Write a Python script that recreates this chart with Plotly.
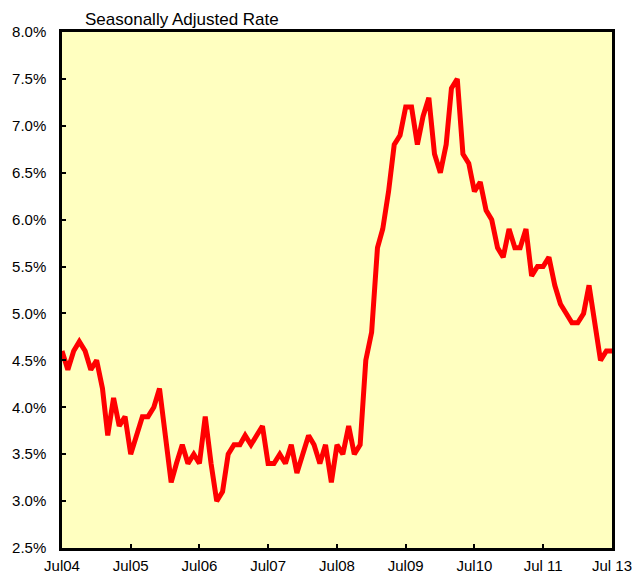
import pandas as pd
import plotly.graph_objects as go

# monthly, Jul 2004 - Jul 2012
months = pd.date_range("2004-07-01", "2012-07-01", freq="MS")

rate = [
    4.6, 4.4, 4.6, 4.7, 4.6, 4.4, 4.5, 4.2, 3.7, 4.1, 3.8, 3.9,
    3.5, 3.7, 3.9, 3.9, 4.0, 4.2, 3.7, 3.2, 3.4, 3.6, 3.4, 3.5,
    3.4, 3.9, 3.4, 3.0, 3.1, 3.5, 3.6, 3.6, 3.7, 3.6, 3.7, 3.8,
    3.4, 3.4, 3.5, 3.4, 3.6, 3.3, 3.5, 3.7, 3.6, 3.4, 3.6, 3.2,
    3.6, 3.5, 3.8, 3.5, 3.6, 4.5, 4.8, 5.7, 5.9, 6.3, 6.8, 6.9,
    7.2, 7.2, 6.8, 7.1, 7.3, 6.7, 6.5, 6.8, 7.4, 7.5, 6.7, 6.6,
    6.3, 6.4, 6.1, 6.0, 5.7, 5.6, 5.9, 5.7, 5.7, 5.9, 5.4, 5.5,
    5.5, 5.6, 5.3, 5.1, 5.0, 4.9, 4.9, 5.0, 5.3, 4.9, 4.5, 4.6,
    4.6,
]

tick_dates = pd.date_range("2004-07-01", "2012-07-01", freq="12MS")
tick_labels = ["Jul04", "Jul05", "Jul06", "Jul07", "Jul08",
               "Jul09", "Jul10", "Jul 11", "Jul 13"]

y_ticks = [2.5, 3.0, 3.5, 4.0, 4.5, 5.0, 5.5, 6.0, 6.5, 7.0, 7.5, 8.0]

fig = go.Figure(
    go.Scatter(
        x=months,
        y=rate,
        mode="lines",
        line=dict(color="#FF0000", width=5),
        hoverinfo="skip",
        showlegend=False,
    )
)

# page body adds an 8px offset, so the figure is a bit smaller than the window
fig.update_layout(
    width=632,
    height=567,
    margin=dict(l=54, r=28, t=24, b=27),
    paper_bgcolor="white",
    plot_bgcolor="#FFFFC0",
    font=dict(family="Liberation Sans, Arial, sans-serif", size=15, color="black"),
    annotations=[
        dict(
            text="Seasonally Adjusted Rate",
            xref="paper", yref="paper",
            x=0.038, y=1.0,
            xanchor="left", yanchor="bottom",
            yshift=1,
            showarrow=False,
            font=dict(size=17, color="black"),
        )
    ],
)

fig.update_xaxes(
    range=[months[0], months[-1]],
    tickvals=tick_dates,
    ticktext=tick_labels,
    ticks="inside",
    ticklen=4,
    tickwidth=2,
    tickcolor="black",
    showline=True,
    linecolor="black",
    linewidth=2.5,
    mirror=True,
    showgrid=False,
    zeroline=False,
    automargin=False,
    ticklabelstandoff=2,
)

fig.update_yaxes(
    range=[2.5, 8.0],
    tickvals=y_ticks,
    ticktext=[f"{v:.1f}%" for v in y_ticks],
    ticks="inside",
    ticklen=4,
    tickwidth=2,
    tickcolor="black",
    showline=True,
    linecolor="black",
    linewidth=2.5,
    mirror=True,
    showgrid=False,
    zeroline=False,
    automargin=False,
    ticklabelstandoff=10,
)

fig.write_html("out.html")
